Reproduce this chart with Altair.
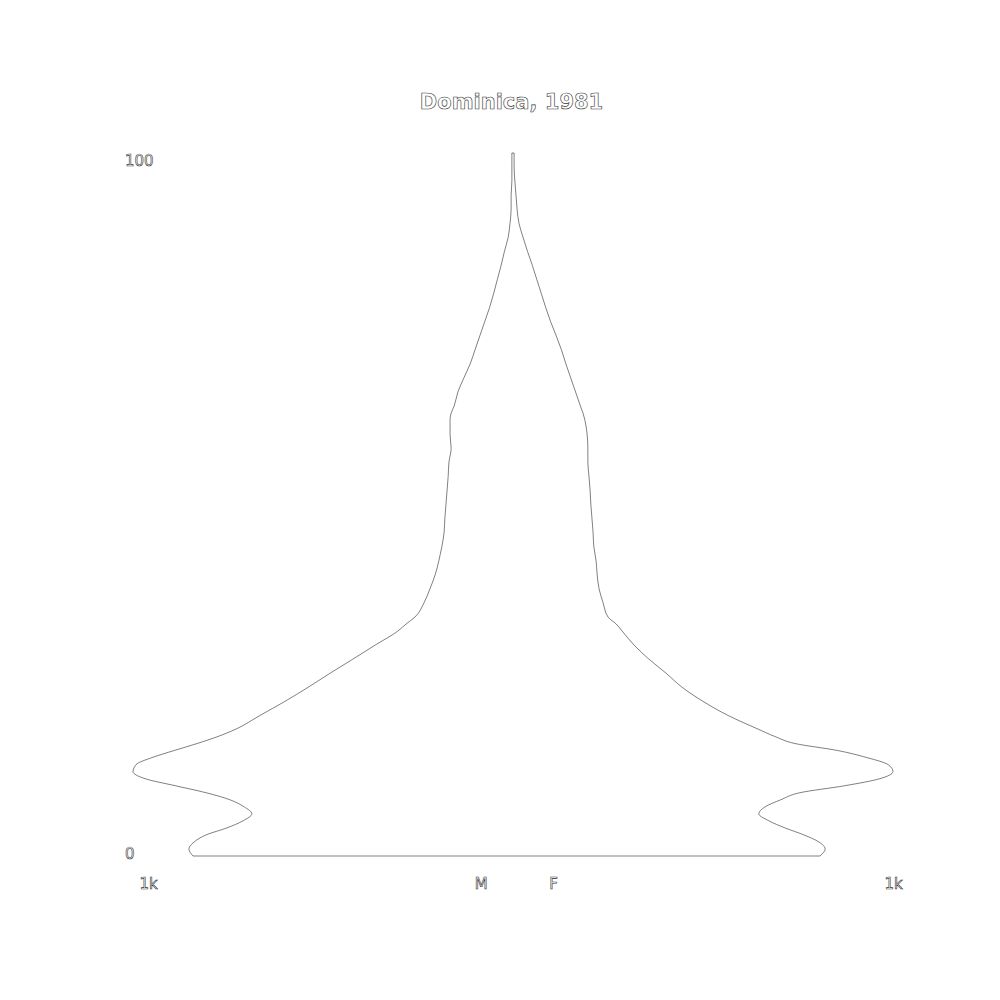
import altair as alt
import pandas as pd

# Age (years) and population by sex
ages = [0, 1, 2, 3, 4, 5, 6, 7, 8, 9, 10, 11, 12, 13, 14, 15, 16, 17, 18, 20,
        22, 24, 26, 28, 30, 32, 33, 34, 36, 38, 40, 42, 44, 46, 48, 50, 52, 54,
        56, 58, 60, 62, 63, 64, 66, 68, 70, 72, 74, 76, 78, 80, 82, 84, 86, 88,
        90, 92, 94, 96, 98, 100]
male = [859, 870, 856, 824, 768, 725, 701, 722, 760, 824, 907, 988, 1020, 1012,
        969, 910, 848, 792, 746, 679, 612, 550, 491, 430, 370, 309, 287, 263,
        239, 223, 209, 199, 191, 185, 183, 180, 177, 174, 172, 166, 169, 169,
        166, 158, 148, 132, 115, 102, 89, 76, 63, 52, 42, 32, 23, 13, 8, 5, 5,
        3, 3, 3]
female = [824, 838, 821, 781, 730, 687, 660, 677, 719, 770, 891, 985, 1020, 1007,
          950, 872, 757, 703, 660, 577, 510, 454, 411, 365, 325, 293, 277, 255,
          242, 231, 226, 223, 217, 215, 212, 209, 207, 204, 201, 201, 199, 193,
          188, 181, 168, 155, 142, 130, 116, 101, 88, 76, 64, 52, 39, 27, 16,
          11, 8, 5, 3, 3]

x_ticks = [-1000, -100, 100, 1000]
x_labels = ["1k", "M", "F", "1k"]
y_ticks = [0, 100]
title_text = "Dominica, 1981"

W, H = 745, 703
FONT = "DejaVu Sans"

df = pd.DataFrame({"age": ages, "male": male, "female": female})
df["male_neg"] = -df["male"]

xscale = alt.Scale(domain=[-1000, 1000], nice=False, zero=False)
yscale = alt.Scale(domain=[0, 100], nice=False, zero=False)

area = alt.Chart(df).mark_area(
    orient="horizontal", interpolate="monotone", fill="white",
    stroke="#000", strokeWidth=0.5
).encode(
    y=alt.Y("age:Q", scale=yscale, axis=None),
    x=alt.X("male_neg:Q", scale=xscale, axis=None),
    x2="female:Q",
)

txt = dict(font=FONT, fill="white", stroke="#333", strokeWidth=0.6)

xlab = alt.Chart(pd.DataFrame({"v": x_ticks, "t": x_labels})).mark_text(
    align="left", baseline="middle", fontSize=15, dx=-1, **txt
).encode(
    x=alt.X("v:Q", scale=xscale, axis=None),
    y=alt.value(H + 28),
    text="t:N",
)

ylab_top = alt.Chart(pd.DataFrame({"v": [y_ticks[1]], "t": [str(y_ticks[1])]})).mark_text(
    align="left", baseline="top", fontSize=15, dy=1, **txt
).encode(
    y=alt.Y("v:Q", scale=yscale, axis=None),
    x=alt.value(-15.5),
    text="t:N",
)

ylab_bot = alt.Chart(pd.DataFrame({"v": [y_ticks[0]], "t": [str(y_ticks[0])]})).mark_text(
    align="left", baseline="middle", fontSize=15, dy=-2.5, **txt
).encode(
    y=alt.Y("v:Q", scale=yscale, axis=None),
    x=alt.value(-15.5),
    text="t:N",
)

title = alt.Chart(pd.DataFrame({"t": [title_text]})).mark_text(
    align="center", baseline="middle", fontSize=21, fontWeight="bold", **txt
).encode(
    x=alt.value(371),
    y=alt.value(-50),
    text="t:N",
)

chart = alt.layer(area, xlab, ylab_top, ylab_bot, title).properties(
    width=W, height=H,
    autosize=alt.AutoSizeParams(type="none"),
    padding={"left": 140.5, "top": 153, "right": 114.5, "bottom": 144},
    background="white",
).configure_view(stroke=None)

chart.save("out.html", embed_options={"renderer": "svg", "actions": False})
